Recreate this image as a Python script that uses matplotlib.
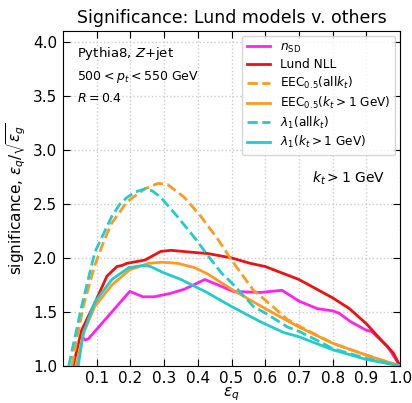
import matplotlib
matplotlib.use('Agg')
import matplotlib.pyplot as plt

plt.rcParams.update({'font.size': 11, 'mathtext.fontset': 'dejavusans'})

# significance curves, eps_q vs eps_q/sqrt(eps_g)
nsd_x = [0.055, 0.065, 0.075, 0.198, 0.237, 0.27, 0.317, 0.36, 0.421, 0.505, 0.585, 0.65,
         0.7, 0.755, 0.8, 0.818, 0.853, 0.9, 0.915, 0.963, 1.0]
nsd_y = [1.28, 1.24, 1.25, 1.69, 1.64, 1.64, 1.67, 1.71, 1.80, 1.69, 1.68, 1.70,
         1.60, 1.53, 1.51, 1.49, 1.41, 1.33, 1.32, 1.18, 1.0]

lund_x = [0.03, 0.055, 0.094, 0.13, 0.16, 0.175, 0.19, 0.243, 0.29, 0.32, 0.39, 0.43, 0.5,
          0.555, 0.6, 0.7, 0.8, 0.85, 0.9, 0.95, 0.98, 1.0]
lund_y = [1.0, 1.33, 1.58, 1.83, 1.92, 1.93, 1.95, 1.98, 2.06, 2.07, 2.05, 2.04, 2.0,
          1.95, 1.92, 1.80, 1.63, 1.53, 1.39, 1.22, 1.12, 1.0]

eec_all_x = [0.026, 0.06, 0.094, 0.123, 0.144, 0.19, 0.243, 0.282, 0.31, 0.36, 0.41, 0.46,
             0.5, 0.565, 0.6, 0.666, 0.7, 0.8, 0.9, 1.0]
eec_all_y = [1.0, 1.55, 1.93, 2.17, 2.32, 2.52, 2.64, 2.69, 2.68, 2.56, 2.38, 2.17,
             1.98, 1.70, 1.61, 1.43, 1.37, 1.21, 1.10, 1.0]

eec_kt_x = [0.04, 0.06, 0.094, 0.145, 0.198, 0.255, 0.293, 0.34, 0.39, 0.43, 0.47, 0.5,
            0.55, 0.6, 0.7, 0.8, 0.9, 1.0]
eec_kt_y = [1.0, 1.3, 1.55, 1.75, 1.89, 1.95, 1.96, 1.95, 1.91, 1.85, 1.77, 1.71,
            1.62, 1.53, 1.36, 1.21, 1.10, 1.0]

lam_all_x = [0.017, 0.055, 0.094, 0.112, 0.144, 0.169, 0.19, 0.215, 0.243, 0.265, 0.29, 0.34,
             0.392, 0.44, 0.47, 0.5, 0.565, 0.6, 0.666, 0.7, 0.765, 0.8, 0.9, 1.0]
lam_all_y = [1.0, 1.55, 2.05, 2.17, 2.38, 2.5, 2.56, 2.61, 2.64, 2.62, 2.56, 2.38,
             2.18, 1.98, 1.86, 1.77, 1.55, 1.49, 1.36, 1.32, 1.22, 1.16, 1.07, 1.0]

lam_kt_x = [0.045, 0.06, 0.094, 0.145, 0.195, 0.238, 0.26, 0.293, 0.35, 0.427, 0.466, 0.5,
            0.585, 0.654, 0.7, 0.8, 0.9, 1.0]
lam_kt_y = [1.0, 1.3, 1.59, 1.80, 1.91, 1.93, 1.92, 1.87, 1.80, 1.68, 1.61, 1.55,
            1.41, 1.31, 1.27, 1.15, 1.06, 1.0]

magenta = '#ff22ee'
red = '#ee1111'
orange = '#ff9920'
cyan = '#22cccc'

fig = plt.figure(figsize=(4.12, 4.03), dpi=100)
ax = fig.add_axes([0.153, 0.092, 0.818, 0.831])

lw = 2
ax.plot(nsd_x, nsd_y, color=magenta, lw=lw, label=r'$n_{\rm SD}$')
ax.plot(lund_x, lund_y, color=red, lw=lw, label='Lund NLL')
ax.plot(eec_all_x, eec_all_y, color=orange, lw=lw, ls='--', label=r'EEC$_{0.5}$(all$k_t$)')
ax.plot(eec_kt_x, eec_kt_y, color=orange, lw=lw, label=r'EEC$_{0.5}$($k_t > 1$ GeV)')
ax.plot(lam_all_x, lam_all_y, color=cyan, lw=lw, ls='--', label=r'$\lambda_1$(all$k_t$)')
ax.plot(lam_kt_x, lam_kt_y, color=cyan, lw=lw, label=r'$\lambda_1$($k_t > 1$ GeV)')

ax.set_xlim(0.0, 1.0)
ax.set_ylim(1.0, 4.1)
ax.set_xticks([0.1, 0.2, 0.3, 0.4, 0.5, 0.6, 0.7, 0.8, 0.9, 1.0])
ax.set_yticks([1.0, 1.5, 2.0, 2.5, 3.0, 3.5, 4.0])
ax.tick_params(direction='in', top=True, right=True, length=5, pad=4)
ax.grid(ls=':', color='#cccccc', lw=1)

ax.set_xlabel(r'$\epsilon_q$', labelpad=-1)
ax.set_ylabel(r'significance, $\epsilon_q/\sqrt{\epsilon_g}$')
ax.set_title('Significance: Lund models v. others', fontsize=12.5)

ax.text(0.04, 0.934, r'Pythia8, $Z$+jet', transform=ax.transAxes, fontsize=9.5, va='center')
ax.text(0.04, 0.863, r'$500 < p_t < 550$ GeV', transform=ax.transAxes, fontsize=9, va='center')
ax.text(0.04, 0.800, r'$R = 0.4$', transform=ax.transAxes, fontsize=9, va='center')
ax.text(0.955, 0.561, r'$k_t > 1$ GeV', transform=ax.transAxes, fontsize=10, ha='right', va='center')

ax.legend(loc='upper right', fontsize=8.7, handlelength=1.9, labelspacing=0.3,
          borderaxespad=0.4, framealpha=0.8)

plt.savefig('out.png', dpi=100)
